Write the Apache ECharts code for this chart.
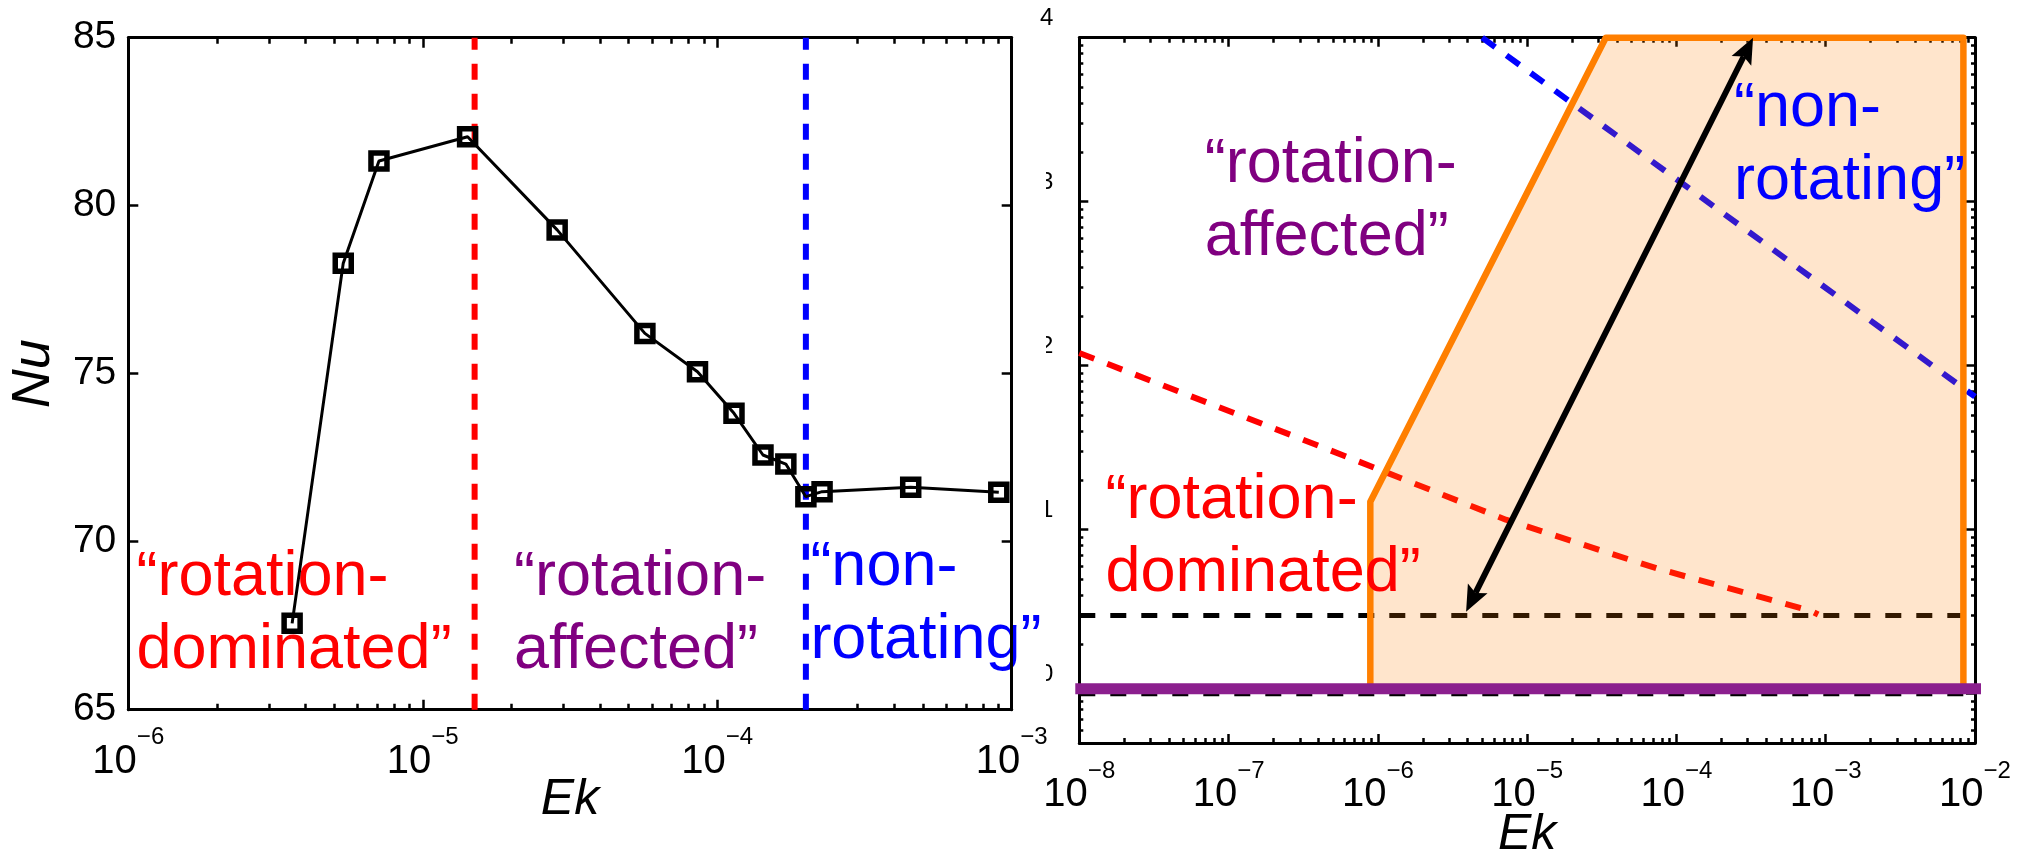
<!DOCTYPE html>
<html>
<head>
<meta charset="utf-8">
<script src="https://cdn.jsdelivr.net/npm/echarts@6/dist/echarts.min.js"></script>
<style>
  html, body { margin: 0; padding: 0; background: #fff; }
  #chart { width: 2038px; height: 857px; }
</style>
</head>
<body>
<div id="chart"></div>
<script>
// ---------- Left panel: Nusselt number against Ekman number ----------
const ekPoints = [3.6e-6, 5.37e-6, 7.1e-6, 1.42e-5, 2.86e-5, 5.68e-5, 8.57e-5, 1.14e-4, 1.43e-4, 1.71e-4, 2.0e-4, 2.27e-4, 4.54e-4, 9.04e-4];
const nuPoints = [67.57, 78.29, 81.33, 82.05, 79.28, 76.2, 75.06, 73.82, 72.58, 72.31, 71.34, 71.49, 71.62, 71.47];
const ekRotationLimit = 1.5e-5;     // red dashed boundary
const ekNonRotatingLimit = 2.0e-4;  // blue dashed boundary
const leftEkTicks = [1e-6, 1e-5, 1e-4, 1e-3];
const nuRange = [65, 85];
const nuTickStep = 5;

// ---------- Right panel: regime diagram ----------
const rightEkTicks = [1e-8, 1e-7, 1e-6, 1e-5, 1e-4, 1e-3, 1e-2];
const rightYTicks = [1, 10, 100, 1000, 10000];
const rightYRange = [0.5, 10000];
// shaded parameter region (orange outline)
const regionEk = [8.9e-7, 8.9e-7, 3.36e-5, 8.36e-3, 8.36e-3];
const regionY = [1.07, 14.8, 10000, 10000, 1.07];
// "rotation-dominated" boundary (red dashed)
const rotBoundEk = [1e-8, 4.3e-7, 7.2e-6, 7.4e-5, 8.0e-4, 8.9e-4];
const rotBoundY = [119.5, 31.7, 11.5, 5.8, 3.19, 3.04];
// "non-rotating" boundary (blue dashed)
const nonRotBoundEk = [5.0e-6, 1e-2];
const nonRotBoundY = [10000, 64.7];
// horizontal black dashed limits
const limitEk = [1e-8, 1e-2];
const upperLimitY = 3;
const lowerLimitY = 1;
// purple base line
const baseLineEk = [9.4e-9, 1.34e-2];
const baseLineY = 1.07;
// double-headed arrow
const arrowEk = [3.9e-6, 3.26e-4];
const arrowY = [3.16, 10000];

const FONT = '"Liberation Sans", Arial, Helvetica, sans-serif';
const RED = '#ff0000', PURPLE = '#800080', BLUE = '#0000ff';

function minorTicks(majors, lo, hi) {
  const out = [];
  majors.forEach(m => {
    for (let k = 2; k <= 9; k++) {
      const v = m * k;
      if (v > lo && v < hi) out.push(v);
    }
  });
  return out;
}

const powRich = {
  b: { fontSize: 40, lineHeight: 56, verticalAlign: 'bottom', fontFamily: FONT, color: '#000' },
  e: { fontSize: 24, lineHeight: 20, verticalAlign: 'top', fontFamily: FONT, color: '#000' }
};
const powLabel = v => '{b|10}{e|\u2212' + Math.round(-Math.log10(v)) + '}';

const axisLineStyle = { color: '#000', width: 3 };
const tickLineStyle = { color: '#000', width: 2.5 };
const nameStyle = { fontFamily: FONT, fontSize: 50, fontStyle: 'italic', color: '#000' };

function logAxis(common, position, opts) {
  return Object.assign({
    type: 'log', logBase: 10, position: position,
    splitLine: { show: false },
    axisLine: { show: false, onZero: false },
    axisLabel: { show: false },
    axisTick: { show: false }
  }, common, opts);
}
function majorTick(values, len) {
  return { show: true, inside: true, length: len, customValues: values, lineStyle: tickLineStyle };
}
function frameLine() {
  return { show: true, onZero: false, lineStyle: axisLineStyle };
}

const leftX = { gridIndex: 0, min: leftEkTicks[0], max: leftEkTicks[leftEkTicks.length - 1], z: 3 };
const leftMinor = minorTicks(leftEkTicks, leftX.min, leftX.max);
const rightX = { gridIndex: 1, min: rightEkTicks[0], max: rightEkTicks[rightEkTicks.length - 1], z: 0 };
const rightMinorX = minorTicks(rightEkTicks, rightX.min, rightX.max);
const rightY = { gridIndex: 1, min: rightYRange[0], max: rightYRange[1], z: 0 };
const rightMinorY = minorTicks([0.1].concat(rightYTicks), rightY.min, rightY.max);

const xAxes = [
  logAxis(leftX, 'bottom', {
    axisLine: frameLine(),
    axisTick: majorTick(leftEkTicks, 10),
    axisLabel: { show: true, customValues: leftEkTicks, formatter: powLabel, margin: 16, rich: powRich },
    name: 'Ek', nameLocation: 'middle', nameGap: 65, nameMoveOverlap: false, nameTextStyle: nameStyle
  }),
  logAxis(leftX, 'bottom', { axisTick: majorTick(leftMinor, 6) }),
  logAxis(leftX, 'top', { axisLine: frameLine(), axisTick: majorTick(leftEkTicks, 10) }),
  logAxis(leftX, 'top', { axisTick: majorTick(leftMinor, 6) }),

  logAxis(rightX, 'bottom', {
    axisLine: frameLine(),
    axisTick: majorTick(rightEkTicks, 9),
    axisLabel: { show: true, customValues: rightEkTicks, formatter: powLabel, margin: 16, rich: powRich },
    name: 'Ek', nameLocation: 'middle', nameGap: 67, nameMoveOverlap: false, nameTextStyle: nameStyle
  }),
  logAxis(rightX, 'bottom', { axisTick: majorTick(rightMinorX, 5) }),
  logAxis(rightX, 'top', { axisLine: frameLine(), axisTick: majorTick(rightEkTicks, 9) }),
  logAxis(rightX, 'top', { axisTick: majorTick(rightMinorX, 5) })
];

const leftYBase = {
  type: 'value', gridIndex: 0, min: nuRange[0], max: nuRange[1], interval: nuTickStep, z: 3,
  splitLine: { show: false },
  axisLine: frameLine(),
  axisTick: { show: true, inside: true, length: 10, lineStyle: tickLineStyle }
};
const yAxes = [
  Object.assign({}, leftYBase, {
    position: 'left',
    axisLabel: { show: true, fontFamily: FONT, fontSize: 39, color: '#000', margin: 12 },
    name: 'Nu', nameLocation: 'middle', nameRotate: 90, nameGap: 67, nameMoveOverlap: false,
    nameTextStyle: Object.assign({}, nameStyle, { fontSize: 54 })
  }),
  Object.assign({}, leftYBase, { position: 'right', axisLabel: { show: false } }),

  // exponents only: the "10" of each label sits behind the left panel's backdrop
  logAxis(rightY, 'left', {
    axisLine: frameLine(),
    axisTick: majorTick(rightYTicks, 9),
    axisLabel: {
      show: true, customValues: rightYTicks,
      formatter: v => String(Math.round(Math.log10(v))),
      fontFamily: FONT, fontSize: 24, lineHeight: 38, verticalAlign: 'bottom',
      color: '#000', margin: 26
    }
  }),
  logAxis(rightY, 'left', { axisTick: majorTick(rightMinorY, 4) }),
  logAxis(rightY, 'right', { axisLine: frameLine(), axisTick: majorTick(rightYTicks, 9) }),
  logAxis(rightY, 'right', { axisTick: majorTick(rightMinorY, 4) })
];

const noteLabel = {
  show: true, position: [0, 0], align: 'left', verticalAlign: 'top',
  fontFamily: FONT, fontSize: 63, lineHeight: 73, opacity: 1,
  formatter: p => p.name
};
function note(name, x, y, color) {
  return { name: name, value: [x, y], label: { color: color } };
}
const noteItem = { color: 'rgba(0,0,0,0)', opacity: 1 };

const series = [
  // ----- left panel -----
  {
    type: 'scatter', xAxisIndex: 0, yAxisIndex: 0, z: 2, silent: true,
    symbolSize: 1, itemStyle: noteItem, label: noteLabel,
    data: [
      note('\u201crotation-\ndominated\u201d', 1.07e-6, 70.0, RED),
      note('\u201crotation-\naffected\u201d', 2.05e-5, 70.0, PURPLE),
      note('\u201cnon-\nrotating\u201d', 2.08e-4, 70.3, BLUE)
    ]
  },
  {
    type: 'line', xAxisIndex: 0, yAxisIndex: 0, z: 3, showSymbol: false, silent: true,
    lineStyle: { color: RED, width: 6, type: [16, 14] },
    data: [[ekRotationLimit, nuRange[0]], [ekRotationLimit, nuRange[1]]]
  },
  {
    type: 'line', xAxisIndex: 0, yAxisIndex: 0, z: 3, showSymbol: false, silent: true,
    lineStyle: { color: BLUE, width: 6, type: [16, 14] },
    data: [[ekNonRotatingLimit, nuRange[0]], [ekNonRotatingLimit, nuRange[1]]]
  },
  {
    type: 'line', xAxisIndex: 0, yAxisIndex: 0, z: 4, silent: true,
    symbol: 'rect', symbolSize: 16, showSymbol: true,
    itemStyle: { color: 'rgba(0,0,0,0)', borderColor: '#000', borderWidth: 5.5, opacity: 1 },
    lineStyle: { color: '#000', width: 3 },
    data: ekPoints.map((e, i) => [e, nuPoints[i]])
  },

  // ----- right panel -----
  {
    type: 'line', xAxisIndex: 4, yAxisIndex: 2, z: 2, showSymbol: false, silent: true,
    lineStyle: { color: '#000', width: 5, type: [16, 15] },
    data: limitEk.map(e => [e, upperLimitY])
  },
  {
    type: 'line', xAxisIndex: 4, yAxisIndex: 2, z: 2, showSymbol: false, silent: true,
    lineStyle: { color: '#000', width: 5, type: [16, 15] },
    data: limitEk.map(e => [e, lowerLimitY])
  },
  {
    type: 'line', xAxisIndex: 4, yAxisIndex: 2, z: 2, showSymbol: false, silent: true,
    lineStyle: { color: RED, width: 6, type: [16, 14] },
    data: rotBoundEk.map((e, i) => [e, rotBoundY[i]])
  },
  {
    type: 'line', xAxisIndex: 4, yAxisIndex: 2, z: 2, showSymbol: false, silent: true,
    lineStyle: { color: BLUE, width: 6, type: [16, 14] },
    data: nonRotBoundEk.map((e, i) => [e, nonRotBoundY[i]])
  },
  {
    type: 'custom', xAxisIndex: 4, yAxisIndex: 2, z: 3, silent: true, clip: false,
    data: [[regionEk[0], regionY[0]]],
    renderItem: (params, api) => ({
      type: 'polygon',
      shape: { points: regionEk.map((e, i) => api.coord([e, regionY[i]])) },
      style: { fill: 'rgba(255,127,0,0.2)', stroke: '#ff7f00', lineWidth: 6.5, lineJoin: 'round' }
    })
  },
  {
    type: 'custom', xAxisIndex: 4, yAxisIndex: 2, z: 4, silent: true, clip: false,
    data: [[arrowEk[0], arrowY[0]]],
    renderItem: (params, api) => {
      const a = api.coord([arrowEk[0], arrowY[0]]);
      const b = api.coord([arrowEk[1], arrowY[1]]);
      const dx = b[0] - a[0], dy = b[1] - a[1];
      const len = Math.hypot(dx, dy);
      const ux = dx / len, uy = dy / len;
      const L = 26, W = 11, notch = 5;
      const head = (t, sx, sy) => {
        const bx = t[0] - sx * L, by = t[1] - sy * L;
        return [t, [bx - sy * W, by + sx * W], [t[0] - sx * (L - notch), t[1] - sy * (L - notch)], [bx + sy * W, by - sx * W]];
      };
      return {
        type: 'group',
        children: [
          { type: 'line', shape: { x1: a[0] + ux * (L - notch), y1: a[1] + uy * (L - notch), x2: b[0] - ux * (L - notch), y2: b[1] - uy * (L - notch) },
            style: { stroke: '#000', lineWidth: 6 } },
          { type: 'polygon', shape: { points: head(b, ux, uy) }, style: { fill: '#000' } },
          { type: 'polygon', shape: { points: head(a, -ux, -uy) }, style: { fill: '#000' } }
        ]
      };
    }
  },
  {
    type: 'line', xAxisIndex: 4, yAxisIndex: 2, z: 5, showSymbol: false, silent: true, clip: false,
    lineStyle: { color: '#8b1f8e', width: 11 },
    data: baseLineEk.map(e => [e, baseLineY])
  },
  {
    type: 'scatter', xAxisIndex: 4, yAxisIndex: 2, z: 6, silent: true,
    symbolSize: 1, itemStyle: noteItem, label: noteLabel,
    data: [
      note('\u201crotation-\naffected\u201d', 6.97e-8, 2790, PURPLE),
      note('\u201crotation-\ndominated\u201d', 1.51e-8, 24.9, RED),
      note('\u201cnon-\nrotating\u201d', 2.45e-4, 6100, BLUE)
    ]
  }
];

const chart = echarts.init(document.getElementById('chart'), null, { renderer: 'canvas' });
chart.setOption({
  animation: false,
  backgroundColor: '#fff',
  grid: [
    { left: 128.3, top: 37.7, width: 883.4, height: 672, outerBoundsMode: 'none' },
    { left: 1079.3, top: 37.7, width: 895.7, height: 705.3, outerBoundsMode: 'none' }
  ],
  // white backdrop of the left panel, laid over the right panel's tick labels
  graphic: [{
    type: 'rect', z: 1, silent: true,
    shape: { x: 0, y: 30, width: 1046, height: 735 },
    style: { fill: '#fff' }
  }],
  xAxis: xAxes,
  yAxis: yAxes,
  series: series
});
</script>
</body>
</html>
